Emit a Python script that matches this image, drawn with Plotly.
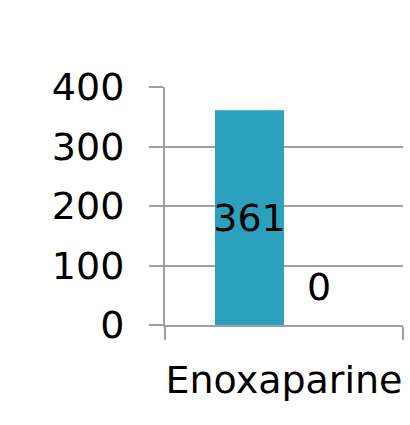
import plotly.graph_objects as go

# Chart data
categories = ["Enoxaparine"]
series_a = [361]
series_b = [0]
y_ticks = [0, 100, 200, 300, 400]

bar_color = "#2CA1BE"
axis_color = "#A0A0A0"
font_family = "'DejaVu Sans', sans-serif"
font_size = 38

fig = go.Figure()
fig.add_trace(go.Bar(
    x=categories, y=series_a,
    marker=dict(color=bar_color, line=dict(width=0)),
    text=[str(v) for v in series_a],
    textposition="inside", insidetextanchor="middle",
    textangle=0, constraintext="none",
    textfont=dict(color="black", size=font_size, family=font_family),
    showlegend=False,
))
fig.add_trace(go.Bar(
    x=categories, y=series_b,
    marker=dict(color="#E0532C", line=dict(width=0)),
    showlegend=False,
))

# Value label for the second series, placed over its (flat) bar
half_bar = 0.29 / 2
for i, v in enumerate(series_b):
    fig.add_annotation(
        x=i + half_bar, y=v, xref="x", yref="y",
        text=str(v), showarrow=False, yanchor="middle", yshift=38,
        font=dict(color="black", size=font_size, family=font_family),
    )

fig.update_layout(
    width=410, height=425,
    margin=dict(l=165, r=7, t=87, b=100, autoexpand=False),
    paper_bgcolor="white", plot_bgcolor="white",
    barmode="group", bargap=0.42, bargroupgap=0,
    font=dict(family=font_family, size=font_size, color="black"),
)
fig.update_xaxes(
    type="category", showline=True, linecolor=axis_color, linewidth=2,
    ticks="outside", tickson="boundaries", ticklen=13, tickwidth=2, tickcolor=axis_color,
    showgrid=False, ticklabelstandoff=20, tickangle=0, automargin=False,
    tickfont=dict(size=font_size, family=font_family, color="black"),
)
fig.update_yaxes(
    range=[0, 400], tickvals=y_ticks, automargin=False,
    showline=True, linecolor=axis_color, linewidth=2,
    ticks="outside", ticklen=14, tickwidth=2, tickcolor=axis_color,
    showgrid=True, gridcolor=axis_color, gridwidth=2, zeroline=False,
    ticklabelstandoff=17,
    tickfont=dict(size=font_size, family=font_family, color="black"),
)

fig.write_html("out.html")
